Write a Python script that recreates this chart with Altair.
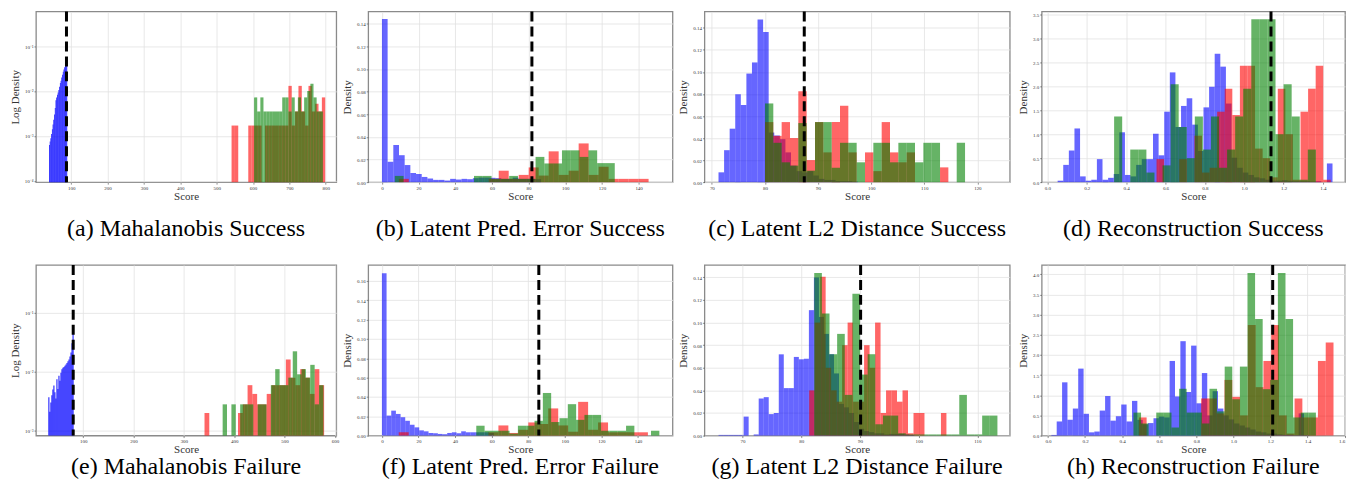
import altair as alt
import pandas as pd

BLUE, RED, GREEN = "#0000ff", "#ff0000", "#008000"

# ---------- (a) Mahalanobis Success (log density) ----------
A_BLUE_BINS = (39, 2)
A_BLUE = [6.3e-4, 7.5e-4, 8.9e-4, 1.1e-3, 1.4e-3, 1.8e-3, 2.3e-3, 3.0e-3, 4.2e-3, 6.2e-3,
          7.2e-3, 8.3e-3, 9.2e-3, 1.05e-2, 1.25e-2, 1.5e-2, 1.7e-2, 2.0e-2, 2.3e-2, 2.7e-2,
          3.0e-2, 3.4e-2, 3.9e-2, 4.5e-2, 5.0e-2]
A_RED_BINS = (541, 9.2)
A_RED = [1.7e-3, 1.7e-3, 0, 0, 0, 1.7e-3, 1.7e-3, 1.7e-3, 1.7e-3, 0, 1.7e-3, 1.7e-3, 1.7e-3,
         1.7e-3, 1.7e-3, 1.7e-3, 1.7e-3, 1.3e-2, 1.7e-3, 3.5e-3, 1.3e-2, 3.5e-3, 1.7e-3,
         1.3e-2, 3.5e-3, 5.2e-3, 3.5e-3, 7.2e-3]
A_GREEN_BINS = (603, 8.6)
A_GREEN = [7.2e-3, 3.5e-3, 7.2e-3, 3.5e-3, 3.5e-3, 3.5e-3, 3.5e-3, 3.5e-3, 3.5e-3, 7.2e-3,
           7.2e-3, 3.5e-3, 7.2e-3, 3.5e-3, 7.2e-3, 3.5e-3, 7.2e-3, 1.0e-2, 1.45e-2, 7.2e-3,
           3.5e-3, 3.5e-3]
A_THR = 87

# ---------- (b) Latent Pred. Error Success ----------
B_BLUE_BINS = (0, 3.1)
B_BLUE = [0.1441, 0.018, 0.0328, 0.0238, 0.0151, 0.0081, 0.0072, 0.0046, 0.0032, 0.002,
          0.002, 0.0014, 0.0029, 0.0023, 0.0029, 0.0026, 0.0035, 0.004, 0.004, 0.0038,
          0.0035, 0.0029, 0.0029, 0.004, 0.0029, 0.0029, 0.0029, 0.0026]
B_RED_BINS = (9.2, 5.45)
B_RED = [0.0029, 0, 0, 0, 0, 0, 0, 0, 0, 0.0029, 0.0101, 0.0029, 0.0064, 0.013, 0.0058,
         0.0272, 0.0064, 0.0101, 0.0342, 0.0064, 0.0136, 0.0029, 0.0029, 0.0029, 0.0029]
B_GREEN_BINS = (7.0, 4.8)
B_GREEN = [0.0055, 0, 0, 0, 0, 0, 0, 0, 0, 0.0055, 0.0055, 0.0029, 0.0029, 0.0055, 0.0029,
           0.0029, 0.0223, 0.0165, 0.0165, 0.0281, 0.0281, 0.0223, 0.0281, 0.0168, 0.0168]
B_THR = 81.8

# ---------- (c) Latent L2 Distance Success ----------
C_BLUE_BINS = (71.25, 1.05)
C_BLUE = [0.0089, 0.029, 0.0485, 0.0798, 0.07, 0.0985, 0.1086, 0.1476, 0.1363, 0.045,
          0.0423, 0.039, 0.027, 0.015, 0.010, 0.0089, 0.010, 0.006, 0.003, 0.002, 0.002,
          0.001, 0.001, 0.001, 0.0005]
C_RED_BINS = (80.0, 1.57)
C_RED = [0.0545, 0.042, 0.0545, 0.040, 0.0824, 0.020, 0.0545, 0.027, 0.0545, 0.0693, 0.027,
         0.0, 0.027, 0.010, 0.0545, 0.027, 0.018, 0.027, 0, 0, 0, 0.0134]
C_GREEN_BINS = (80.0, 1.57)
C_GREEN = [0.0714, 0.0357, 0.018, 0.015, 0.0536, 0.0104, 0.0545, 0.0545, 0.013, 0.0357,
           0.0357, 0.018, 0, 0.0357, 0.0357, 0.018, 0.0357, 0.0357, 0.018, 0.0357, 0.0357,
           0, 0, 0.0357]
C_THR = 87.4

# ---------- (d) Reconstruction Success ----------
D_BLUE_BINS = (0.052, 0.0285)
D_BLUE = [0.03, 0.36, 0.66, 1.12, 0.12, 0.03, 0.05, 0.48, 0.05, 0.09, 0.17, 1.04, 0.15, 0.12,
          0.36, 0.48, 0.48, 1.01, 0.56, 1.47, 2.29, 1.15, 1.59, 1.75, 1.2, 0.65, 1.56, 1.99,
          2.68, 2.41, 1.64, 0.51, 0.3, 0.2, 0.15, 0.1, 0.08, 0.05, 0.03, 0.03, 0.04, 0.03,
          0.02, 0.02, 0.02, 0.01, 0.02, 0.0, 0.39]
D_RED_BINS = (0.5545, 0.0385)
D_RED = [0.48, 0, 0, 0.48, 0, 0.97, 0.2, 0.3, 1.47, 1.95, 1.4, 2.43, 2.43, 0.7, 0.5, 0.1,
         1.95, 1.0, 0.05, 1.47, 1.95, 2.43, 0.05]
D_GREEN_BINS = (0.339, 0.041)
D_GREEN = [1.37, 0, 0.68, 0.68, 0.2, 0, 0.35, 2.04, 1.15, 0.5, 1.37, 0.68, 1.37, 0.3, 0.68,
           1.37, 1.95, 3.4, 3.4, 3.4, 1.0, 2.04, 1.37, 0.05, 0.68]
D_THR = 1.136

# ---------- (e) Mahalanobis Failure (log density) ----------
E_BLUE_BINS = (31, 2)
E_BLUE = [3.7e-3, 2.1e-3, 3.0e-3, 4.0e-3, 5.0e-3, 5.8e-3, 4.5e-3, 3.5e-3, 7.4e-3, 5.1e-3,
          8.5e-3, 7.0e-3, 9.6e-3, 1.1e-2, 1.16e-2, 1.2e-2, 1.25e-2, 1.32e-2, 1.4e-2, 1.5e-2,
          1.6e-2, 1.8e-2, 2.1e-2, 3.0e-2, 5.0e-2]
E_RED_BINS = (341, 9.5)
E_RED = [2.0e-3, 0, 0, 0, 0, 0, 0, 2.0e-3, 2.8e-3, 5.9e-3, 4.2e-3, 2.8e-3, 2.8e-3, 4.2e-3,
         5.9e-3, 5.9e-3, 5.9e-3, 1.6e-2, 7.9e-3, 5.9e-3, 1.1e-2, 7.9e-3, 4.2e-3, 1.1e-2,
         5.9e-3]
E_GREEN_BINS = (377, 8.7)
E_GREEN = [2.8e-3, 0, 2.8e-3, 0, 2.8e-3, 2.8e-3, 2.8e-3, 0, 2.8e-3, 2.8e-3, 0, 5.9e-3,
           1.1e-2, 5.9e-3, 5.9e-3, 7.9e-3, 2.2e-2, 9.0e-3, 1.1e-2, 7.9e-3, 1.3e-2, 2.8e-3,
           5.9e-3]
E_THR = 80.3

# ---------- (f) Latent Pred. Error Failure ----------
F_BLUE_BINS = (0, 2.55)
F_BLUE = [0.168, 0.0207, 0.0258, 0.0224, 0.019, 0.0153, 0.0112, 0.0085, 0.0054, 0.0044,
          0.0027, 0.0024, 0.0017, 0.0014, 0.0027, 0.0034, 0.0024, 0.0044, 0.0034, 0.0034,
          0.0034, 0.0034, 0.0034, 0.0027]
F_RED_BINS = (9.2, 5.45)
F_RED = [0.0034, 0, 0, 0, 0, 0, 0, 0, 0, 0.0034, 0.0105, 0.0027, 0.006, 0.0136, 0.012,
         0.0281, 0.0105, 0.004, 0.0349, 0.006, 0.0136, 0.0034, 0.0034, 0.0034, 0.0034]
F_GREEN_BINS = (51.6, 4.55)
F_GREEN = [0.0102, 0.005, 0.005, 0.005, 0.002, 0.0102, 0.0102, 0.0153, 0.0441, 0.014,
           0.018, 0.0325, 0.0163, 0.0214, 0.0214, 0.005, 0.005, 0.005, 0.0102, 0.0, 0.0,
           0.005]
F_THR = 85.8

# ---------- (g) Latent L2 Distance Failure ----------
G_BLUE_BINS = (65.9, 0.855)
G_BLUE = [0.0006, 0.0006, 0.0006, 0.0006, 0.0006, 0.0168, 0, 0.001, 0.0328, 0.034, 0.019,
          0.02, 0.0719, 0.042, 0.042, 0.0696, 0.0675, 0.068, 0.111, 0.14, 0.105, 0.09, 0.072,
          0.055, 0.028, 0.025, 0.02, 0.012, 0.006, 0.004, 0.003, 0.002, 0.002, 0.001, 0.0015,
          0.0015, 0.0015, 0.001, 0.0006]
G_RED_BINS = (81.34, 0.935)
G_RED = [0.04, 0.1, 0.1406, 0.06, 0.04, 0.03, 0.08, 0.1, 0.03, 0.03, 0.08, 0.06, 0.1, 0.02,
         0.04, 0.04, 0.03, 0.04, 0.002, 0.02, 0.02, 0, 0, 0, 0.02]
G_GREEN_BINS = (82.2, 1.3)
G_GREEN = [0.1438, 0.108, 0.072, 0.09, 0.036, 0.1255, 0.054, 0.072, 0.01, 0.0177, 0.0177,
           0.002, 0.001, 0.001, 0.001, 0.001, 0.001, 0.001, 0.001, 0.036, 0.001, 0.001,
           0.0177, 0.0177]
G_THR = 90.1

# ---------- (h) Reconstruction Failure ----------
H_BLUE_BINS = (0.018, 0.029)
H_BLUE = [0.016, 0.35, 1.32, 0.39, 0.67, 1.66, 0.54, 0.08, 0.1, 0.62, 0.98, 0.37, 0.48, 0.77,
          0.35, 0.86, 0.39, 0.28, 0.31, 0.43, 0.47, 0.45, 1.85, 0.97, 2.34, 1.08, 2.23, 0.8,
          1.55, 0.5, 1.1, 0.67, 0.5, 0.4, 0.3, 0.25, 0.2, 0.15, 0.1, 0.08, 0.05, 0.05, 0.03,
          0.02, 0.02, 0.01, 0.55, 0.01]
H_RED_BINS = (0.49, 0.042)
H_RED = [0.45, 0, 0, 0, 0, 0, 0, 0, 0.92, 0.92, 0.55, 1.38, 0.96, 0.5, 2.74, 1.2, 1.85, 2.74,
         0.5, 0.05, 0.92, 0.45, 0.45, 1.85, 2.31]
H_GREEN_BINS = (0.461, 0.041)
H_GREEN = [0.57, 0.3, 0, 0.57, 0.57, 0.2, 1.16, 0.57, 0.57, 0.3, 1.16, 0.6, 1.71, 0.9, 1.71,
           4.03, 2.89, 1.15, 1.38, 4.03, 2.89, 0.45, 0.57, 0.57]
H_THR = 1.212

CAPTIONS = ["(a) Mahalanobis Success", "(b) Latent Pred. Error Success",
            "(c) Latent L2 Distance Success", "(d) Reconstruction Success",
            "(e) Mahalanobis Failure", "(f) Latent Pred. Error Failure",
            "(g) Latent L2 Distance Failure", "(h) Reconstruction Failure"]

H_PX = 171
WIDTHS = [301, 305, 306, 304]
CAPTION_OFFSETS = [16, 1]
SERIF = "Liberation Serif"

LOG_LABEL = ("'10' + (datum.value > 0.05 ? '\u207b\u00b9' : datum.value > 0.005 ? '\u207b\u00b2' : "
             "datum.value > 0.0005 ? '\u207b\u00b3' : '\u207b\u2074')")

PANELS = [
    dict(series=[(A_BLUE_BINS, A_BLUE, BLUE), (A_RED_BINS, A_RED, RED), (A_GREEN_BINS, A_GREEN, GREEN)],
         thr=A_THR, xdom=[3, 829], xticks=[100, 200, 300, 400, 500, 600, 700, 800], xfmt="d",
         log=True, ydom=[10 ** -4.03, 10 ** -0.23], yticks=[1e-4, 1e-3, 1e-2, 1e-1], ylab="Log Density"),
    dict(series=[(B_BLUE_BINS, B_BLUE, BLUE), (B_RED_BINS, B_RED, RED), (B_GREEN_BINS, B_GREEN, GREEN)],
         thr=B_THR, xdom=[-7.5, 158.5], xticks=[0, 20, 40, 60, 80, 100, 120, 140], xfmt="d",
         log=False, ydom=[0, 0.1507], yticks=[0, 0.02, 0.04, 0.06, 0.08, 0.10, 0.12, 0.14], yfmt=".2f", ylab="Density"),
    dict(series=[(C_BLUE_BINS, C_BLUE, BLUE), (C_RED_BINS, C_RED, RED), (C_GREEN_BINS, C_GREEN, GREEN)],
         thr=C_THR, xdom=[68.6, 126.1], xticks=[70, 80, 90, 100, 110, 120], xfmt="d",
         log=False, ydom=[0, 0.1548], yticks=[0, 0.02, 0.04, 0.06, 0.08, 0.10, 0.12, 0.14], yfmt=".2f", ylab="Density"),
    dict(series=[(D_BLUE_BINS, D_BLUE, BLUE), (D_RED_BINS, D_RED, RED), (D_GREEN_BINS, D_GREEN, GREEN)],
         thr=D_THR, xdom=[-0.029, 1.512], xticks=[0, 0.2, 0.4, 0.6, 0.8, 1.0, 1.2, 1.4], xfmt=".1f",
         log=False, ydom=[0, 3.56], yticks=[0, 0.5, 1.0, 1.5, 2.0, 2.5, 3.0, 3.5], yfmt=".1f", ylab="Density"),
    dict(series=[(E_BLUE_BINS, E_BLUE, BLUE), (E_RED_BINS, E_RED, RED), (E_GREEN_BINS, E_GREEN, GREEN)],
         thr=E_THR, xdom=[6.3, 602.6], xticks=[100, 200, 300, 400, 500, 600], xfmt="d",
         log=True, ydom=[10 ** -3.08, 10 ** -0.2], yticks=[1e-3, 1e-2, 1e-1], ylab="Log Density"),
    dict(series=[(F_BLUE_BINS, F_BLUE, BLUE), (F_RED_BINS, F_RED, RED), (F_GREEN_BINS, F_GREEN, GREEN)],
         thr=F_THR, xdom=[-7.5, 158.9], xticks=[0, 20, 40, 60, 80, 100, 120, 140], xfmt="d",
         log=False, ydom=[0, 0.1766], yticks=[0, 0.02, 0.04, 0.06, 0.08, 0.10, 0.12, 0.14, 0.16], yfmt=".2f", ylab="Density"),
    dict(series=[(G_BLUE_BINS, G_BLUE, BLUE), (G_RED_BINS, G_RED, RED), (G_GREEN_BINS, G_GREEN, GREEN)],
         thr=G_THR, xdom=[63.5, 115.5], xticks=[70, 80, 90, 100, 110], xfmt="d",
         log=False, ydom=[0, 0.151], yticks=[0, 0.02, 0.04, 0.06, 0.08, 0.10, 0.12, 0.14], yfmt=".2f", ylab="Density"),
    dict(series=[(H_BLUE_BINS, H_BLUE, BLUE), (H_RED_BINS, H_RED, RED), (H_GREEN_BINS, H_GREEN, GREEN)],
         thr=H_THR, xdom=[-0.034, 1.602], xticks=[0, 0.2, 0.4, 0.6, 0.8, 1.0, 1.2, 1.4, 1.6], xfmt=".1f",
         log=False, ydom=[0, 4.23], yticks=[0, 0.5, 1.0, 1.5, 2.0, 2.5, 3.0, 3.5, 4.0], yfmt=".1f", ylab="Density"),
]


def bins_frame(bins, heights):
    start, width = bins
    rows = []
    for i, h in enumerate(heights):
        if h > 0:
            x0 = start + i * width
            rows.append({"x0": x0, "x1": x0 + width, "h": h})
    return pd.DataFrame(rows)


def make_panel(cfg, caption, width, offset):
    xs = alt.Scale(domain=cfg["xdom"], nice=False, zero=False)
    xa = alt.Axis(values=cfg["xticks"], format=cfg["xfmt"], title="Score")
    if cfg["log"]:
        ys = alt.Scale(type="log", domain=cfg["ydom"], nice=False)
        ya = alt.Axis(values=cfg["yticks"], labelExpr=LOG_LABEL, title=cfg["ylab"])
    else:
        ys = alt.Scale(domain=cfg["ydom"], nice=False, zero=True)
        ya = alt.Axis(values=cfg["yticks"], format=cfg["yfmt"], title=cfg["ylab"])
    layers = []
    for bins, heights, color in cfg["series"]:
        op = 0.95 if (cfg["log"] and color == BLUE) else 0.6
        layers.append(
            alt.Chart(bins_frame(bins, heights)).mark_bar(color=color, opacity=op).encode(
                x=alt.X("x0:Q", scale=xs, axis=xa),
                x2="x1:Q",
                y=alt.Y("h:Q", scale=ys, axis=ya),
                y2=alt.value(H_PX),
            )
        )
    rule = alt.Chart(pd.DataFrame({"t": [cfg["thr"]]})).mark_rule(
        color="black", strokeWidth=3, strokeDash=[10, 5]
    ).encode(x=alt.X("t:Q", scale=xs, axis=xa))
    return alt.layer(*layers, rule).properties(
        width=width, height=H_PX,
        title=alt.TitleParams(caption, orient="bottom", anchor="middle", offset=offset,
                              font=SERIF, fontSize=24, fontWeight="normal", color="black"),
    )


panels = [make_panel(cfg, cap, WIDTHS[i % 4], CAPTION_OFFSETS[i // 4])
          for i, (cfg, cap) in enumerate(zip(PANELS, CAPTIONS))]

chart = alt.concat(
    *panels, columns=4, spacing={"row": 83, "column": 32}, bounds="flush", align="each"
).properties(
    padding={"left": 0, "top": 0, "right": 0, "bottom": 0}
).configure_view(
    stroke="#8a8a8a", strokeWidth=1.3
).configure_axis(
    grid=True, gridColor="#e2e2e2", gridWidth=0.8, domain=False,
    tickSize=2, tickColor="#444", tickWidth=0.6,
    labelFont=SERIF, labelFontSize=5, labelColor="#333",
    titleFont=SERIF, titleFontSize=11, titleFontWeight="normal", titleColor="#333",
).configure_axisX(
    labelPadding=1, titlePadding=0
).configure_axisY(
    labelPadding=1, titlePadding=4
)

chart.save("out.html", embed_options={"renderer": "svg", "actions": False})
